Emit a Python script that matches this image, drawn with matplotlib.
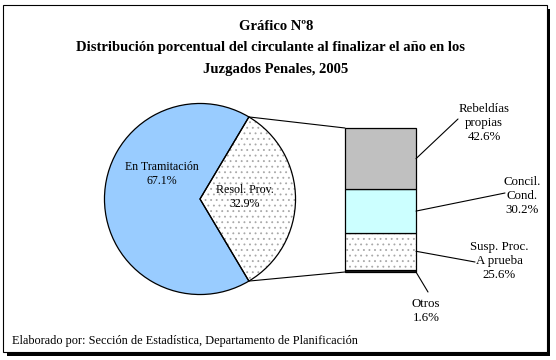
import numpy as np
import matplotlib
matplotlib.use("Agg")
import matplotlib.pyplot as plt
from matplotlib.patches import Rectangle, ConnectionPatch

plt.rcParams['font.family'] = ['Liberation Serif', 'DejaVu Serif']
plt.rcParams['hatch.linewidth'] = 0.6

# pie data
pie_labels = ['Resol. Prov.', 'En Tramitación']
pie_values = [32.9, 67.1]
pie_colors = ['white', '#99CCFF']

# breakdown of Resol. Prov. (bottom to top)
bar_labels = ['Otros', 'Susp. Proc.\nA prueba', 'Concil.\nCond.', 'Rebeldías\npropias']
bar_values = [1.6, 25.6, 30.2, 42.6]
bar_colors = ['#222222', 'white', '#CCFFFF', '#C0C0C0']
bar_hatch = [None, '...', None, None]

W, H = 556, 360
fig = plt.figure(figsize=(W / 100, H / 100), dpi=100)


def fx(px):
    return px / W


def fy(py):
    return 1 - py / H


# frame with shadow
fig.patches.append(Rectangle((fx(7), fy(356)), fx(550) - fx(7), fy(9) - fy(356),
                             transform=fig.transFigure, facecolor='black', edgecolor='none', zorder=-3))
fig.patches.append(Rectangle((fx(3), fy(352)), fx(547) - fx(3), fy(5) - fy(352),
                             transform=fig.transFigure, facecolor='white', edgecolor='black',
                             linewidth=0.8, zorder=-2))

# title
fig.text(fx(276), fy(27), 'Gráfico Nº8', ha='center', va='center', fontsize=10.5, fontweight='bold')
fig.text(fx(270), fy(48), 'Distribución porcentual del circulante al finalizar el año en los',
         ha='center', va='center', fontsize=10.5, fontweight='bold')
fig.text(fx(276), fy(69), 'Juzgados Penales, 2005', ha='center', va='center', fontsize=10.5,
         fontweight='bold')
fig.text(fx(12), fy(341), 'Elaborado por: Sección de Estadística, Departamento de Planificación',
         ha='left', va='center', fontsize=8.8)

# pie
cx, cy, r = 200, 199, 96
ax_pie = fig.add_axes([fx(cx - r), fy(cy + r), fx(2 * r), (2 * r) / H])
ax_pie.axis('off')
start = -pie_values[0] * 3.6 / 2
wedges, _ = ax_pie.pie(pie_values, colors=pie_colors, startangle=start, counterclock=True,
                       radius=1, wedgeprops=dict(linewidth=0))
wedges[0].set_hatch('...')
wedges[0].set_edgecolor('#A8A8A8')
wedges[0].set_linewidth(0)
ax_pie.pie(pie_values, colors=['none', 'none'], startangle=start, counterclock=True, radius=1,
           wedgeprops=dict(linewidth=0.9, edgecolor='black', fill=False))
ax_pie.set_xlim(-1.005, 1.005)
ax_pie.set_ylim(-1.005, 1.005)

ax_pie.text(-0.40, 0.26, 'En Tramitación\n67.1%', ha='center', va='center', fontsize=8.6,
            linespacing=1.25)
ax_pie.text(0.47, 0.02, 'Resol. Prov.\n32.9%', ha='center', va='center', fontsize=8.6,
            linespacing=1.25)

# stacked bar
bx0, bx1, by0, by1 = 345, 416, 128, 272
ax_bar = fig.add_axes([fx(bx0), fy(by1), fx(bx1 - bx0), (by1 - by0) / H])
ax_bar.set_xlim(-0.5, 0.5)
ax_bar.set_ylim(0, sum(bar_values))
ax_bar.axis('off')
bottom = 0
mids = []
for v, c, h in zip(bar_values, bar_colors, bar_hatch):
    if h:
        ax_bar.bar(0, v, width=1, bottom=bottom, color=c, hatch=h, edgecolor='#A8A8A8', linewidth=0)
        ax_bar.bar(0, v, width=1, bottom=bottom, fill=False, edgecolor='black', linewidth=0.9)
    else:
        ax_bar.bar(0, v, width=1, bottom=bottom, color=c, edgecolor='black', linewidth=0.9)
    mids.append(bottom + v / 2)
    bottom += v
for p in ax_bar.patches:
    p.set_clip_on(False)

# connector lines pie -> bar
a0 = np.deg2rad(start)
a1 = np.deg2rad(start + pie_values[0] * 3.6)
for ang, yb in [(a1, sum(bar_values)), (a0, 0)]:
    fig.add_artist(ConnectionPatch((np.cos(ang), np.sin(ang)), (-0.5, yb), coordsA=ax_pie.transData,
                                   coordsB=ax_bar.transData, color='black', linewidth=0.8))

# bar labels with leader lines
label_pos = [(426, 311, 428, 292),
             (499, 261, 475, 262),
             (522, 196, 505, 193),
             (484, 123, 458, 119)]
pcts = ['{:.1f}%'.format(v) for v in bar_values]
for i, (lx, ly, ex, ey) in enumerate(label_pos):
    yb = mids[i] if i > 0 else 0
    fig.add_artist(ConnectionPatch((0.5, yb), (fx(ex), fy(ey)), coordsA=ax_bar.transData,
                                   coordsB=fig.transFigure, color='black', linewidth=0.8))
    fig.text(fx(lx), fy(ly), bar_labels[i] + '\n' + pcts[i], ha='center', va='center',
             fontsize=9.3, linespacing=1.2, multialignment='center')

fig.savefig('out.png', dpi=100)
